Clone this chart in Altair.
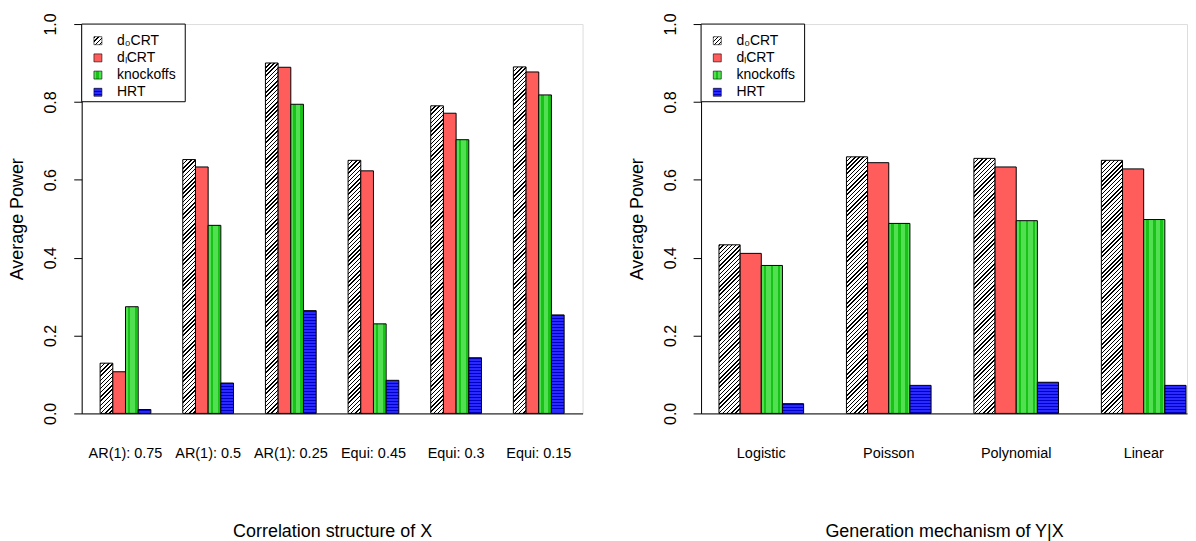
import math
import altair as alt

# ---------------- data ----------------
methods = ["d₀CRT", "dₗCRT", "knockoffs", "HRT"]

corr_labels = ["AR(1): 0.75", "AR(1): 0.5", "AR(1): 0.25", "Equi: 0.45", "Equi: 0.3", "Equi: 0.15"]
corr_d0crt = [0.129, 0.652, 0.900, 0.650, 0.790, 0.890]
corr_dicrt = [0.107, 0.633, 0.889, 0.623, 0.771, 0.877]
corr_knockoffs = [0.274, 0.483, 0.794, 0.230, 0.703, 0.818]
corr_hrt = [0.010, 0.078, 0.264, 0.085, 0.143, 0.253]

gen_labels = ["Logistic", "Poisson", "Polynomial", "Linear"]
gen_d0crt = [0.433, 0.659, 0.655, 0.650]
gen_dicrt = [0.411, 0.644, 0.633, 0.628]
gen_knockoffs = [0.380, 0.488, 0.495, 0.498]
gen_hrt = [0.025, 0.072, 0.080, 0.072]

y_ticks = [0.0, 0.2, 0.4, 0.6, 0.8, 1.0]

# ---------------- layout / style ----------------
FONT = "Liberation Sans"
PLOT_H = 391
LEFT_W = 503
RIGHT_W = 488
L_PI, L_PO, L_ALIGN = 0.386, 0.223, 0.5
R_PI, R_PO, R_ALIGN = 0.336, 0.0742, 0.947


def stripes(kind, w, h, period, line, bg, fg, phase=0.0):
    """Linear gradient that imitates R's shading lines on a w x h box."""
    w = max(w, 0.01)
    h = max(h, 0.01)
    if kind == "diag":
        length = w + h
        den = w * w + h * h
        g = {"gradient": "linear", "x1": 0, "y1": 0,
             "x2": w * (w + h) / den, "y2": h * (w + h) / den}
    elif kind == "vert":
        length = w
        g = {"gradient": "linear", "x1": 0, "y1": 0, "x2": 1, "y2": 0}
    else:
        length = h
        g = {"gradient": "linear", "x1": 0, "y1": 0, "x2": 0, "y2": 1}
    stops = [{"offset": 0, "color": bg}]
    k = math.floor((-phase - line) / period)
    s = phase + k * period
    while s < length:
        e = s + line
        a, b = max(s, 0.0), min(e, length)
        if b > a:
            oa, ob = round(a / length, 5), round(b / length, 5)
            stops += [{"offset": oa, "color": bg}, {"offset": oa, "color": fg},
                      {"offset": ob, "color": fg}, {"offset": ob, "color": bg}]
        s += period
    stops.append({"offset": 1, "color": bg})
    g["stops"] = stops
    return g


def method_fill(m, w, h):
    if m == methods[0]:
        return stripes("diag", w, h, 4.2, 1.4, "#ffffff", "#000000")
    if m == methods[1]:
        return "#ff5c5c"
    if m == methods[2]:
        return stripes("vert", w, h, 7.0, 2.5, "#52e052", "#17c317", phase=2.5)
    return stripes("horiz", w, h, 3.0, 1.0, "#2a2aff", "#0000c4")


def bar_width(total_w, n, pi, po):
    step = total_w / (n - pi + 2 * po)
    return step * (1 - pi) / len(methods)


def legend_layers():
    box = alt.Chart(alt.Data(values=[{}])).mark_rect(
        fill="white", stroke="black", strokeWidth=1
    ).encode(x=alt.value(0), x2=alt.value(104), y=alt.value(0), y2=alt.value(78))
    recs = [{"method": m, "sym": method_fill(m, 8, 8)} for m in methods]
    ly = alt.Y("method:N", sort=methods, axis=None,
               scale=alt.Scale(domain=methods, range=[16.7, 68.5], padding=0))
    syms = alt.Chart(alt.Data(values=recs)).mark_square(
        size=64, stroke="black", strokeWidth=0.6, opacity=1
    ).encode(x=alt.value(16.3), y=ly, fill=alt.Fill("sym:N", scale=None, legend=None))
    texts = alt.Chart(alt.Data(values=recs)).mark_text(
        align="left", baseline="middle", fontSize=14, font=FONT, color="black"
    ).encode(x=alt.value(35.5), y=ly, text="method:N")
    return [box, syms, texts]


def panel(cats, series, width, pi, po, align, xtitle):
    n = len(cats)
    bw = bar_width(width, n, pi, po)
    recs = []
    for i, c in enumerate(cats):
        for j, m in enumerate(methods):
            v = series[j][i]
            recs.append({"cat": c, "method": m, "power": v,
                         "fill": method_fill(m, bw, v * PLOT_H)})
    bars = alt.Chart(alt.Data(values=recs)).mark_bar(
        stroke="black", strokeWidth=1
    ).encode(
        x=alt.X("cat:N", sort=cats,
                scale=alt.Scale(paddingInner=pi, paddingOuter=po, align=align),
                axis=alt.Axis(title=xtitle, labelAngle=0, ticks=False, tickSize=0,
                              domain=True, domainColor="black", domainWidth=1,
                              labelFontSize=14.5, labelPadding=33, labelColor="black",
                              labelFont=FONT, titleFont=FONT, titleFontSize=18,
                              titleFontWeight="normal", titleColor="black",
                              titlePadding=63)),
        xOffset=alt.XOffset("method:N", sort=methods,
                            scale=alt.Scale(domain=methods, paddingInner=0, paddingOuter=0)),
        y=alt.Y("power:Q", stack=None,
                scale=alt.Scale(domain=[0, 1], nice=False, zero=True),
                axis=alt.Axis(title="Average Power", values=y_ticks, format=".1f",
                              grid=False, domain=True, domainColor="black", domainWidth=1,
                              ticks=True, tickColor="black", tickSize=8, tickWidth=1,
                              labelAngle=270, labelAlign="center",
                              labelBaseline="alphabetic", labelPadding=18,
                              labelFontSize=16, labelFont=FONT, labelColor="black",
                              titleFont=FONT, titleFontSize=18, titleFontWeight="normal",
                              titleColor="black", titlePadding=16)),
        fill=alt.Fill("fill:N", scale=None, legend=None),
    )
    return alt.layer(bars, *legend_layers()).resolve_scale(y="independent").properties(
        width=width, height=PLOT_H)


left = panel(corr_labels, [corr_d0crt, corr_dicrt, corr_knockoffs, corr_hrt],
             LEFT_W, L_PI, L_PO, L_ALIGN, "Correlation structure of X")
right = panel(gen_labels, [gen_d0crt, gen_dicrt, gen_knockoffs, gen_hrt],
              RIGHT_W, R_PI, R_PO, R_ALIGN, "Generation mechanism of Y|X")

chart = alt.hconcat(left, right, spacing=44).resolve_scale(
    x="independent", xOffset="independent", y="independent"
).properties(
    padding={"left": 0, "top": 3, "right": 0, "bottom": 0}
).configure_view(stroke=None).configure(background="white")

chart.save("out.html", embed_options={"renderer": "svg", "actions": False})
